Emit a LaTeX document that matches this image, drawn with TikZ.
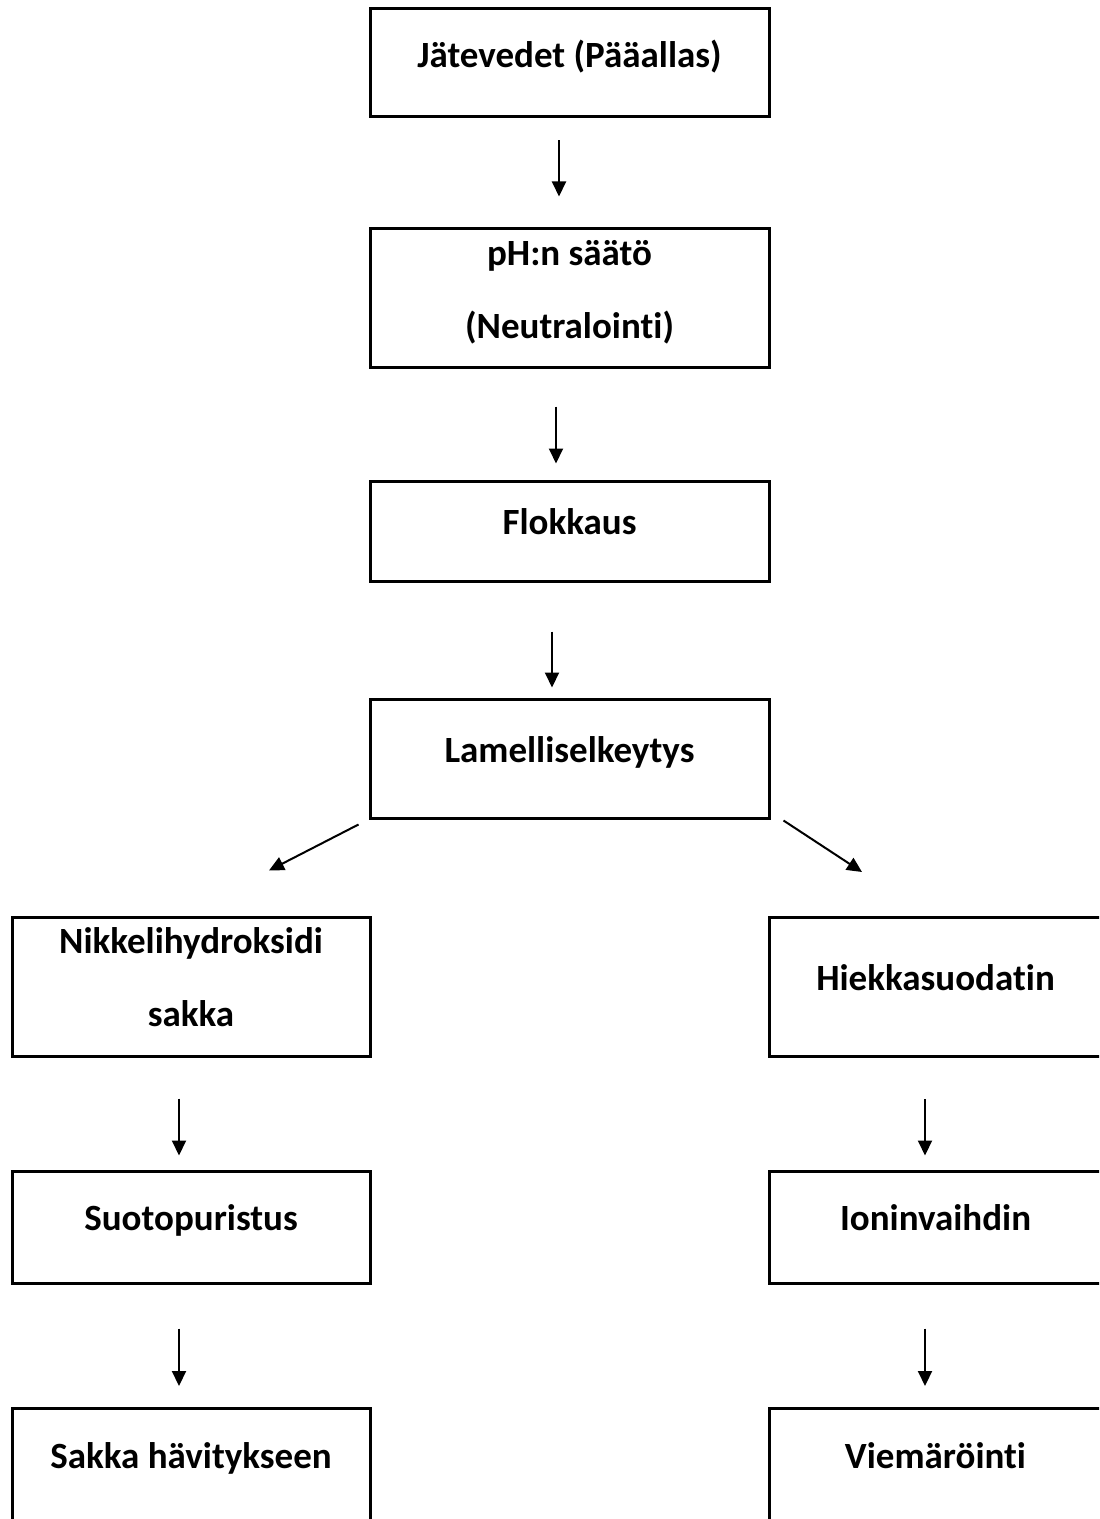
\documentclass[tikz,border=0pt]{standalone}
\usepackage{fontspec}
\setmainfont{Carlito}[Ligatures={TeX,NoCommon}]
\usetikzlibrary{arrows.meta}

\tikzset{
  stage/.style={draw, line width=1.5pt, minimum width=199.5pt, inner ysep=2pt,
    text depth=9pt, align=center,
    font={\fontsize{18.5}{36.5}\selectfont\bfseries}},
  flow/.style={line width=1pt, -{Triangle[length=7.5pt,width=7pt]}}
}

\begin{document}
\begin{tikzpicture}[x=0.5pt,y=-0.5pt]
  \clip (0,0) rectangle (1099,1519);
  % keskipylvas
  \node[stage, minimum height=54pt] (jate) at (569.5,63) {Jätevedet (Pääallas)};
  \node[stage, minimum height=69.5pt] (ph) at (569.5,298.5) {pH:n säätö\\(Neutralointi)};
  \node[stage, minimum height=50pt] (flok) at (569.5,531) {Flokkaus};
  \node[stage, minimum height=59.5pt] (lamelli) at (569.5,758.5) {Lamelliselkeytys};

  % vasen haara
  \node[stage, minimum width=179pt, minimum height=69.5pt] (nikkeli) at (191,986.5) {Nikkelihydroksidi\\sakka};
  \node[stage, minimum width=179pt, minimum height=56pt] (suoto) at (191,1227) {Suotopuristus};
  \node[stage, minimum width=179pt, anchor=north, inner ysep=6pt, text height=24pt, text depth=60pt] (sakka) at (191,1407) {Sakka hävitykseen};

  % oikea haara
  \node[stage, minimum width=166.5pt, minimum height=69.5pt] (hiekka) at (935.5,987) {Hiekkasuodatin};
  \node[stage, minimum width=166.5pt, minimum height=56pt] (ioni) at (935.5,1227) {Ioninvaihdin};
  \node[stage, minimum width=166.5pt, anchor=north, inner ysep=6pt, text height=24pt, text depth=60pt] (viem) at (935.5,1407) {Viemäröinti};

  % nuolet
  \draw[flow] ([shift={(-10.5,22)}]jate.south) -- ([shift={(-10.5,-31)}]ph.north);
  \draw[flow] ([shift={(-13.5,37)}]ph.south) -- ([shift={(-13.5,-16)}]flok.north);
  \draw[flow] ([shift={(-17.5,49)}]flok.south) -- ([shift={(-17.5,-10)}]lamelli.north);
  \draw[flow] ([shift={(-10,5)}]lamelli.south west) -- ([shift={(78,-45)}]nikkeli.north);
  \draw[flow] ([shift={(13,1)}]lamelli.south east) -- ([shift={(-73.5,-44)}]hiekka.north);
  \draw[flow] ([shift={(-12,41)}]nikkeli.south) -- ([shift={(-12,-14)}]suoto.north);
  \draw[flow] ([shift={(-10.5,41)}]hiekka.south) -- ([shift={(-10.5,-14)}]ioni.north);
  \draw[flow] ([shift={(-12,44)}]suoto.south) -- ([shift={(-12,-21)}]sakka.north);
  \draw[flow] ([shift={(-10.5,44)}]ioni.south) -- ([shift={(-10.5,-21)}]viem.north);
\end{tikzpicture}
\end{document}
